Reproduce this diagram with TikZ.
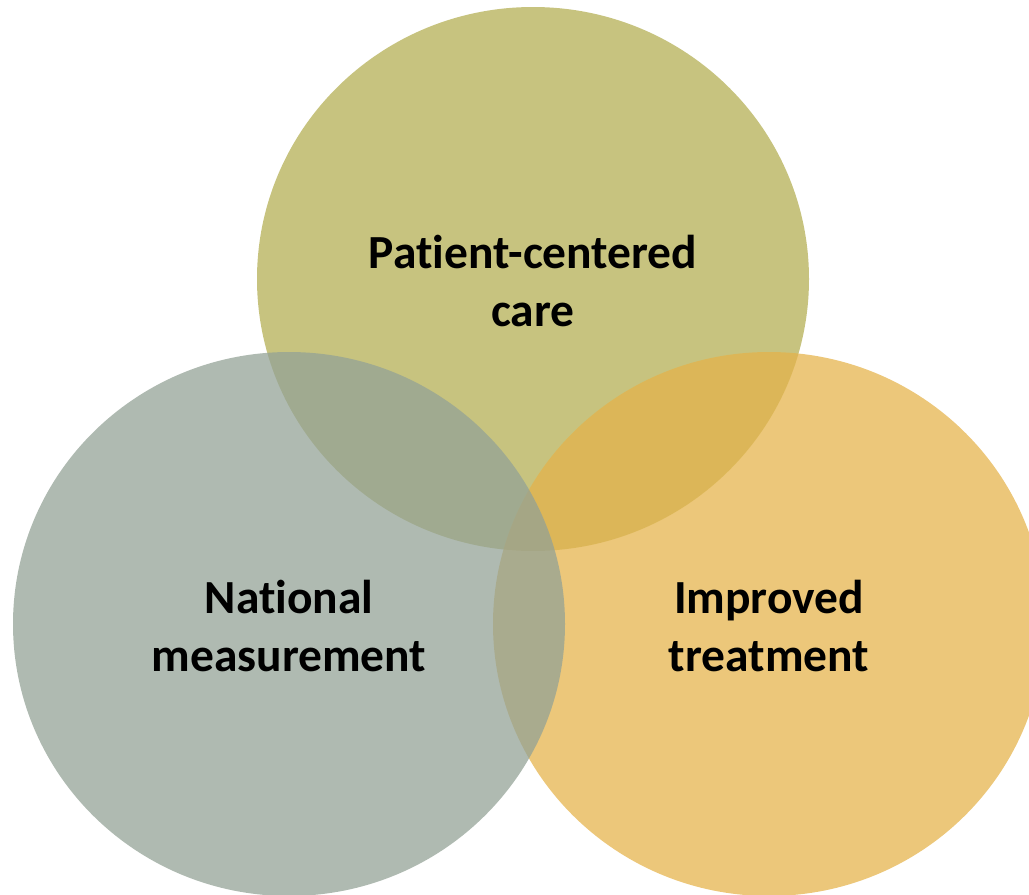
\documentclass[tikz,border=0pt]{standalone}
\usepackage{fontspec}
\setmainfont{Carlito}[Ligatures=NoCommon]
\definecolor{topc}{HTML}{B3AE52}
\definecolor{leftc}{HTML}{93A296}
\definecolor{rightc}{HTML}{E5B34B}
\tikzset{
  venn/.style={fill opacity=0.74, draw=none},
  lbl/.style={align=center, font=\fontsize{47.5}{57.5}\selectfont\bfseries, text=black, text opacity=1}
}
\begin{document}
\begin{tikzpicture}[x=1pt,y=-1pt]
\useasboundingbox (0,0) rectangle (1029,895);
\clip (0,0) rectangle (1029,895);
\fill[venn, topc] (533,279) ellipse [x radius=276, y radius=272];
\fill[venn, rightc] (769,624) ellipse [x radius=276, y radius=272];
\fill[venn, leftc] (289,624) ellipse [x radius=276, y radius=272];
\node[lbl] (top) at (533,281) {Pat\kern0pt ient-centered\\care};
\node[lbl] (left) at (289,626) {Nat\kern0pt ional\\measurement};
\node[lbl] (right) at (769,626) {Improved\\treatment};
\end{tikzpicture}
\end{document}
